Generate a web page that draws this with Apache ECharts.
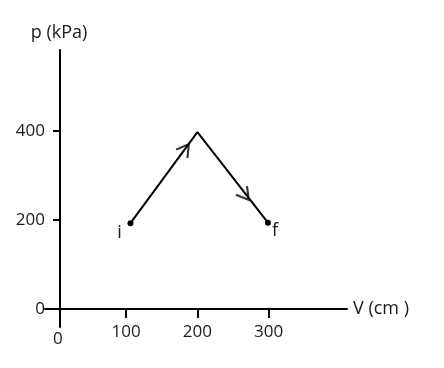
<!DOCTYPE html>
<html>
<head>
<meta charset="utf-8">
<script src="https://cdn.jsdelivr.net/npm/echarts@6/dist/echarts.min.js"></script>
<style>
html,body{margin:0;padding:0;background:#fff;}
#c{width:444px;height:368px;}
</style>
</head>
<body>
<div id="c"></div>
<script>
// Data
const volume = [106, 200, 299];          // V (cm)
const pressure = [193, 398, 194];        // p (kPa)
const pointNames = ['i', '', 'f'];
const arrowVolume = [183, 267];
const arrowPressure = [360, 256];
const arrowSegment = [0, 1];             // which path segment each arrow sits on
const xTickValues = [100, 200, 300];
const xLabelValues = [0, 100, 200, 300];
const yTickValues = [200, 400];
const yLabelValues = [0, 200, 400];

const FONT = 'Open Sans';
const TXT = '#1a1a1a';

const chart = echarts.init(document.getElementById('c'), null, {renderer: 'canvas'});

const pathData = volume.map((v, i) => {
  const item = {value: [v, pressure[i]], name: pointNames[i]};
  if (!pointNames[i]) item.symbol = 'none';
  return item;
});
const labelOffsets = {i: [-11, 10], f: [7, 8]};
pathData.forEach(d => {
  if (d.name) {
    d.label = {show: true, formatter: d.name, position: 'inside', offset: labelOffsets[d.name],
      color: TXT, fontFamily: FONT, fontSize: 18};
  }
});

const option = {
  animation: false,
  backgroundColor: '#fff',
  grid: {left: 45, right: 97, top: 50, bottom: 41, containLabel: false},
  xAxis: {
    type: 'value', min: -14, max: 410, offset: -18,
    name: 'V (cm )', nameLocation: 'end', nameGap: 6,
    nameTextStyle: {color: TXT, fontFamily: FONT, fontSize: 18},
    axisLine: {show: true, onZero: false, lineStyle: {color: '#000', width: 2}},
    axisTick: {show: true, customValues: xTickValues, length: 9, inside: false, lineStyle: {color: '#000', width: 2}},
    axisLabel: {show: true, customValues: xLabelValues, margin: 15, color: TXT, fontFamily: FONT, fontSize: 17,
      formatter: v => v === 0 ? '{z|0}' : String(v),
      rich: {z: {padding: [7, 0, 0, 6], color: TXT, fontFamily: FONT, fontSize: 17}}},
    splitLine: {show: false}
  },
  yAxis: {
    type: 'value', min: -41, max: 583, offset: -15,
    name: 'p (kPa)', nameLocation: 'end', nameGap: 8,
    nameTextStyle: {color: TXT, fontFamily: FONT, fontSize: 18, padding: [0, 2, 0, 0]},
    axisLine: {show: true, onZero: false, lineStyle: {color: '#000', width: 2}},
    axisTick: {show: true, customValues: yTickValues, length: 7, inside: false, lineStyle: {color: '#000', width: 2}},
    axisLabel: {show: true, customValues: yLabelValues, margin: 15, color: TXT, fontFamily: FONT, fontSize: 17},
    splitLine: {show: false}
  },
  series: [
    {
      type: 'line', data: pathData, symbol: 'circle', symbolSize: 6, showSymbol: true,
      lineStyle: {color: '#000', width: 2}, itemStyle: {color: '#000'}, z: 3, silent: true
    },
    {
      type: 'scatter', id: 'arrows',
      data: arrowVolume.map((v, i) => ({value: [v, arrowPressure[i]]})),
      symbol: 'path://M0,0 L12,7 L0,14', symbolSize: [12, 14],
      itemStyle: {color: 'rgba(0,0,0,0)', borderColor: '#000', borderWidth: 2},
      z: 4, silent: true
    }
  ]
};
chart.setOption(option);

// orient each arrow along its segment, using the library's scales
const arrowData = arrowVolume.map((v, i) => {
  const s = arrowSegment[i];
  const a = chart.convertToPixel({gridIndex: 0}, [volume[s], pressure[s]]);
  const b = chart.convertToPixel({gridIndex: 0}, [volume[s + 1], pressure[s + 1]]);
  const ang = Math.atan2(-(b[1] - a[1]), b[0] - a[0]) * 180 / Math.PI;
  return {value: [v, arrowPressure[i]], symbolRotate: ang};
});
chart.setOption({series: [{id: 'arrows', data: arrowData}]});
</script>
</body>
</html>
